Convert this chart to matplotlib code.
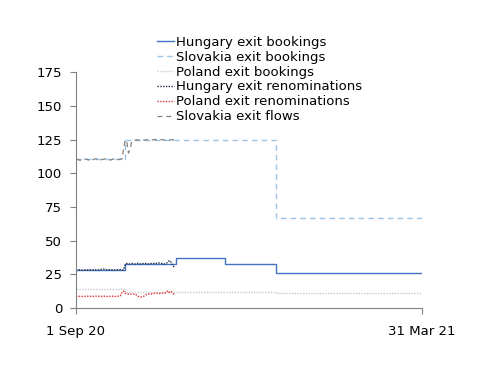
import matplotlib
matplotlib.use("Agg")
import matplotlib.pyplot as plt
import numpy as np

# step-wise bookings (value holds from date until next date)
hu_book_dates = ['2020-09-01', '2020-10-01', '2020-11-01', '2020-12-01', '2021-01-01', '2021-03-31']
hu_book = [28.2, 32.6, 36.8, 32.6, 25.7, 25.7]
sk_book_dates = ['2020-09-01', '2020-10-01', '2021-01-01', '2021-03-31']
sk_book = [110.5, 125.0, 66.5, 66.5]
pl_book_dates = ['2020-09-01', '2020-10-01', '2021-01-01', '2021-03-31']
pl_book = [13.8, 11.9, 10.9, 10.9]

# daily renominations / flows, 1 Sep - 31 Oct 2020
hu_reno = [28.3, 28.1, 28.4, 28.2, 28.0, 28.3, 28.5, 28.2, 28.1, 28.4, 28.3, 28.6, 28.2, 28.0, 28.3,
           28.5, 28.7, 29.0, 28.4, 28.3, 28.5, 28.2, 28.4, 28.3, 28.1, 28.4, 28.3, 28.5, 28.2, 28.3,
           32.5, 33.0, 32.8, 32.6, 33.1, 32.9, 32.7, 33.0, 33.2, 32.8, 32.6, 33.0, 33.3, 32.9, 32.7,
           33.1, 33.0, 32.8, 33.4, 33.2, 33.0, 33.5, 33.1, 32.9, 32.6, 33.0, 34.2, 35.3, 34.0, 31.5, 30.2]
pl_reno = [8.7, 8.6, 8.7, 8.8, 8.6, 8.7, 8.7, 8.8, 8.6, 8.7, 8.7, 8.6, 8.8, 8.7, 8.7,
           8.6, 8.7, 8.8, 8.7, 8.6, 8.7, 8.7, 8.8, 8.7, 8.6, 8.7, 8.8, 9.0, 11.5, 12.5,
           10.8, 10.5, 10.4, 10.5, 10.3, 10.2, 10.4, 9.5, 8.6, 8.3, 8.2, 8.5, 9.2, 10.0, 10.3,
           10.5, 10.4, 10.8, 11.0, 10.9, 11.1, 10.8, 11.0, 11.2, 11.0, 11.3, 12.8, 11.5, 12.2, 10.8, 10.0]
sk_flow = [110.5, 110.2, 109.8, 109.5, 110.0, 110.3, 110.6, 110.2, 109.7, 109.4, 109.9, 110.4, 110.8, 110.5, 110.1,
           109.8, 110.2, 110.5, 110.7, 110.4, 110.0, 109.8, 110.2, 110.6, 110.9, 110.5, 110.2, 110.4, 110.6, 118.0,
           124.8, 123.0, 115.0, 118.0, 123.5, 124.2, 124.5, 124.8, 124.6, 124.9, 125.0, 124.7, 124.5, 124.8, 125.0,
           124.9, 124.6, 124.8, 125.1, 124.9, 124.7, 124.9, 125.0, 124.8, 124.6, 124.9, 125.1, 124.8, 124.7, 124.9, 125.0]
days = np.arange('2020-09-01', '2020-11-01', dtype='datetime64[D]')

fig = plt.figure(figsize=(5, 3.86), dpi=100)
ax = fig.add_axes([0.152, 0.202, 0.692, 0.611])

ax.step(np.array(hu_book_dates, dtype='datetime64[D]'), hu_book, where='post',
        color='#4472C4', lw=1.0, label='Hungary exit bookings')
ax.step(np.array(sk_book_dates, dtype='datetime64[D]'), sk_book, where='post',
        color='#9DC3E6', lw=1.0, ls=(0, (4, 3)), label='Slovakia exit bookings')
ax.step(np.array(pl_book_dates, dtype='datetime64[D]'), pl_book, where='post',
        color='#C8C8C8', lw=1.0, ls=(0, (1, 1)), label='Poland exit bookings')
ax.plot(days, hu_reno, color='#1F2A44', lw=1.0, ls=(0, (1, 1)), label='Hungary exit renominations')
ax.plot(days, pl_reno, color='#E03030', lw=1.0, ls=(0, (1, 1)), label='Poland exit renominations')
ax.plot(days, sk_flow, color='#808080', lw=0.9, ls=(0, (4, 3)), label='Slovakia exit flows')

ax.set_xlim(np.datetime64('2020-09-01'), np.datetime64('2021-03-31'))
ax.set_ylim(0, 175)
ax.set_yticks(range(0, 176, 25))
ax.set_xticks([np.datetime64('2020-09-01'), np.datetime64('2021-03-31')])
ax.set_xticklabels(['1 Sep 20', '31 Mar 21'])

for s in ['top', 'right']:
    ax.spines[s].set_visible(False)
for s in ['left', 'bottom']:
    ax.spines[s].set_color('#808080')
ax.tick_params(axis='both', colors='#808080', labelcolor='black', labelsize=9.5, length=4, direction='out')
ax.tick_params(axis='x', pad=8)
ax.tick_params(axis='y', pad=6)

fig.legend(loc='upper left', bbox_to_anchor=(0.30, 0.925), frameon=False, fontsize=9.5,
           handlelength=1.3, handletextpad=0.2, labelspacing=0.15, borderpad=0)

fig.savefig('out.png', dpi=100)
